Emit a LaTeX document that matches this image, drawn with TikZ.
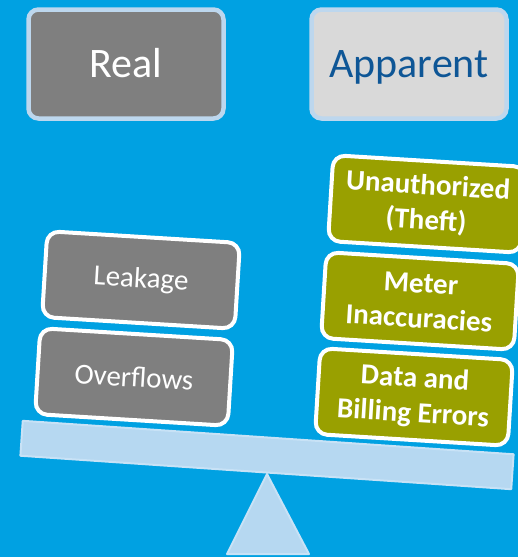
\documentclass[tikz,border=0pt]{standalone}
\usepackage{fontspec}
\setmainfont{Carlito}
\definecolor{bgblue}{RGB}{0,161,226}
\definecolor{realgray}{RGB}{127,127,127}
\definecolor{appgray}{RGB}{217,217,217}
\definecolor{topborder}{RGB}{189,215,238}
\definecolor{apptext}{RGB}{14,86,150}
\definecolor{olive}{RGB}{153,160,0}
\definecolor{beamfill}{RGB}{182,216,241}
\definecolor{beamline}{RGB}{200,226,246}
\tikzset{
  topbox/.style={draw=topborder, line width=4.5pt, rounded corners=10pt,
    minimum width=195pt, minimum height=109pt, inner sep=0pt,
    text height=27pt, text depth=0pt,
    font=\fontsize{42}{48}\selectfont},
  stackbox/.style={draw=white, line width=4pt, rounded corners=12pt,
    minimum width=193pt, minimum height=86pt, inner sep=0pt, text=white,
    align=center, rotate=-3.5},
  realbox/.style={stackbox, fill=realgray, font=\fontsize{29}{32}\selectfont},
  appbox/.style={stackbox, fill=olive, font=\fontsize{29}{35}\selectfont\bfseries},
  beamstyle/.style={fill=beamfill, draw=beamline, line width=2pt, line join=round}
}
\begin{document}
\begin{tikzpicture}[x=1pt,y=-1pt]
\fill[bgblue] (0,0) rectangle (518,557);
\useasboundingbox (0,0) rectangle (518,557);

\node[topbox, fill=realgray, text=white] (real) at (126,64) {Real};
\node[topbox, fill=appgray, text=apptext] (apparent) at (409,64) {Apparent};

\coordinate (apex) at (267,474);
\coordinate (bl) at (227,554);
\coordinate (br) at (309,554);
\draw[beamstyle] (apex) -- (br) -- (bl) -- cycle;
\node[beamstyle, rotate=-3.9, minimum width=492pt, minimum height=35pt, inner sep=0pt] (beam) at (267,455) {};

\node[realbox] (leak) at (141,280) {Leakage};
\node[realbox] (over) at (134,377) {Overflows};

\node[appbox] (data) at (414,397) {Data and\\Billing Errors};
\node[appbox] (meter) at (420,301) {Meter\\Inaccuracies};
\node[appbox] (theft) at (427,204) {Unauthorized\\(Theft)};
\end{tikzpicture}
\end{document}
